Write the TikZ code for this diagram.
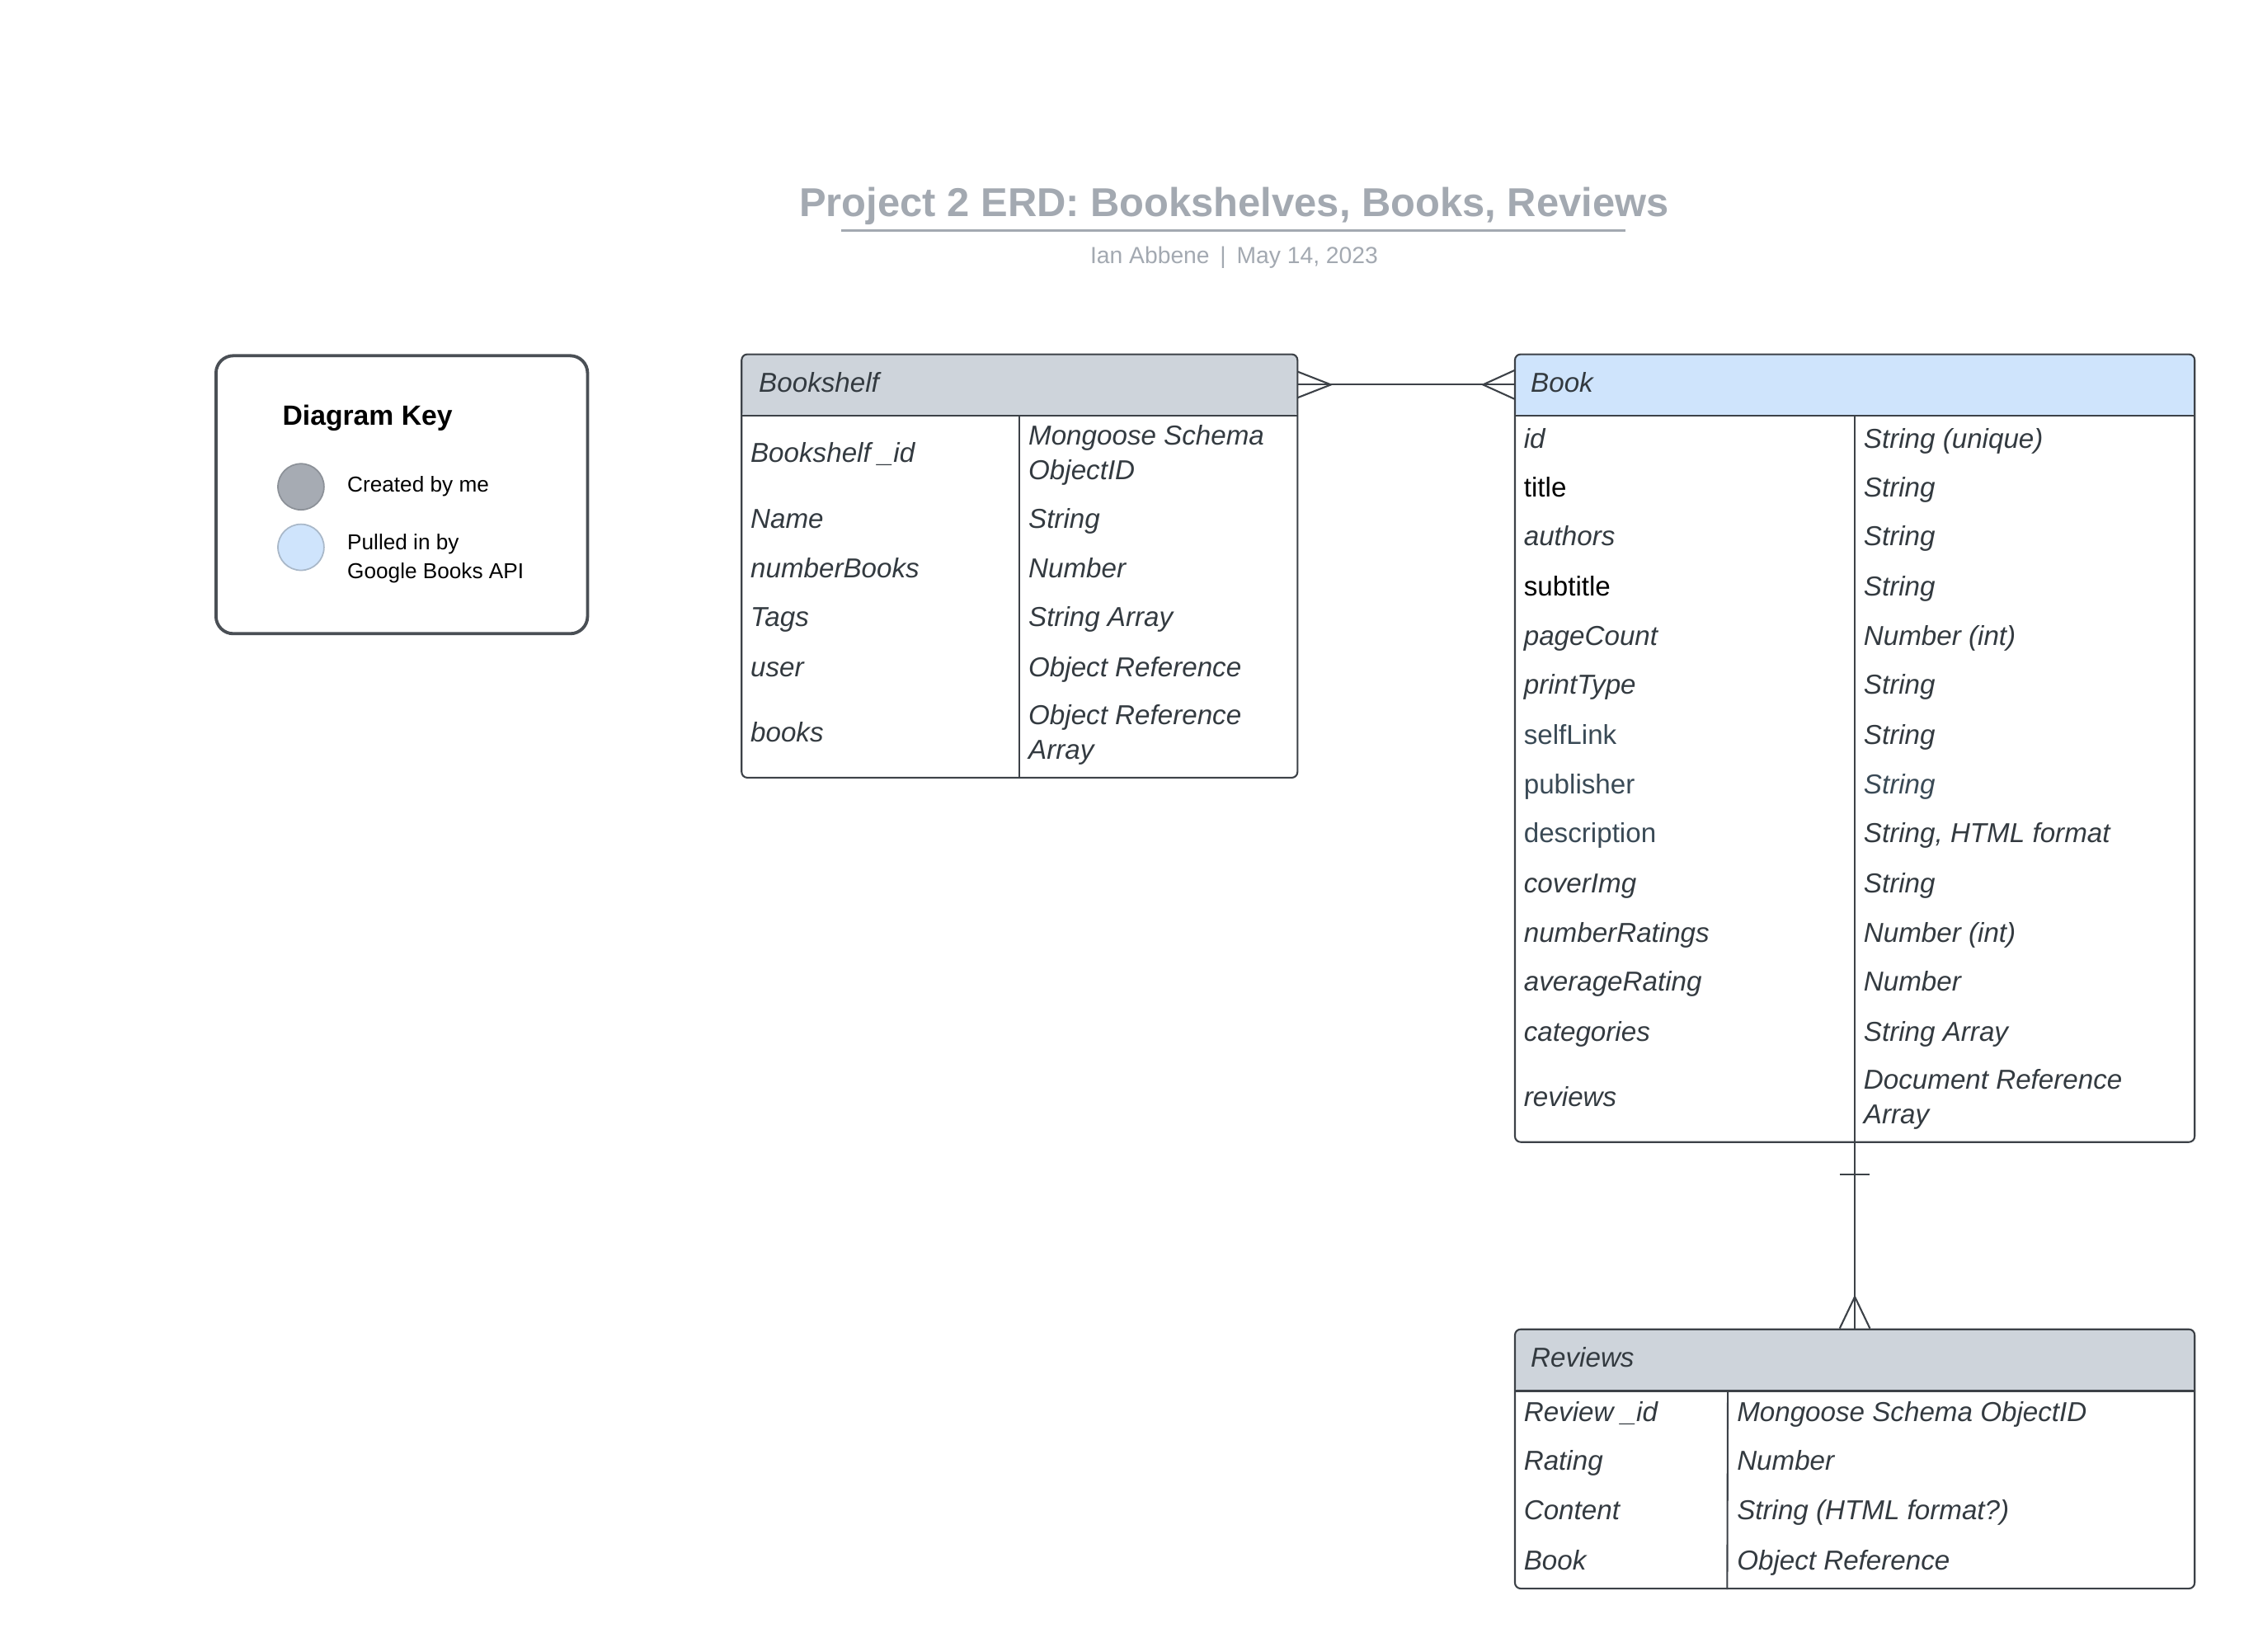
\documentclass[tikz,border=0pt]{standalone}
\usepackage{fontspec}
\setmainfont{Liberation Sans}
\definecolor{titlegray}{HTML}{A3A9B1}
\definecolor{inkgray}{HTML}{333A40}
\definecolor{slate}{HTML}{3A4A56}
\definecolor{headgray}{HTML}{CED4DB}
\definecolor{headblue}{HTML}{CFE4FC}
\definecolor{linegray}{HTML}{3C4147}
\definecolor{keyline}{HTML}{4A4F55}
\definecolor{dotgray}{HTML}{A6ABB3}
\definecolor{dotgrayline}{HTML}{8C9198}
\definecolor{dotblueline}{HTML}{A9B8C9}
\begin{document}
\begin{tikzpicture}[x=1pt,y=-1pt,
  every node/.style={font=\fontsize{19}{24}\selectfont,text=inkgray},
  entity/.style={draw=linegray,line width=1.2pt,rounded corners=4pt,inner sep=0pt},
  head/.style={inner sep=0pt,minimum height=43pt},
  cell/.style={anchor=base west,inner sep=0pt,align=left,font=\fontsize{19}{24}\selectfont\itshape},
  plain/.style={font=\fontsize{19}{24}\selectfont\upshape},
  keytext/.style={anchor=west,align=left,inner sep=0pt,text=black,font=\fontsize{15}{20}\selectfont},
  rel/.style={draw=linegray,line width=1.2pt}]
\useasboundingbox (0,0) rectangle (1568,1147);
% title
\node[font=\fontsize{28}{34}\selectfont\bfseries,text=titlegray] (title) at (857,143) {Project 2 ERD: Bookshelves, Books, Reviews};
\draw[titlegray,line width=2pt] (584,160) -- (1129,160);
\node[font=\fontsize{16.2}{20}\selectfont,text=titlegray] (byline) at (857,179) {Ian Abbene\hspace{0.45em}|\hspace{0.45em}May 14, 2023};
% key
\node[draw=keyline,line width=2.2pt,rounded corners=12pt,minimum width=258pt,minimum height=193pt,inner sep=0pt] (key) at (279,343.5) {};
\node[anchor=west,inner sep=0pt,text=black,font=\fontsize{19.3}{24}\selectfont\bfseries] (keytitle) at (196,290) {Diagram Key};
\node[circle,minimum size=32pt,inner sep=0pt,fill=dotgray,draw=dotgrayline,line width=1pt] (dotme) at (209,338) {};
\node[keytext] (keyme) at (241,338) {Created by me};
\node[circle,minimum size=32pt,inner sep=0pt,fill=headblue,draw=dotblueline,line width=1pt] (dotapi) at (209,380) {};
\node[keytext] (keyapi) at (241,388) {Pulled in by\\Google Books API};
% Bookshelf
\node[entity,minimum width=386pt,minimum height=294pt,path picture={\fill[headgray] (path picture bounding box.north west) rectangle ([yshift=-43pt]path picture bounding box.north east);}] (shelf) at (708,393) {};
\node[head,anchor=north,minimum width=386pt] (shelfhead) at (shelf.north) {};
\draw[rel] (shelfhead.south west) -- (shelfhead.south east);
\draw[rel] (shelfhead.south) -- (shelf.south);
\node[cell,anchor=west] (shelfname) at ([xshift=12pt,yshift=1.5pt]shelfhead.west) {Bookshelf};
\node[cell] (s1a) at (521,321) {Bookshelf \_id};
\node[cell] (s1b) at (714,333) {Mongoose Schema\\ObjectID};
\node[cell] (s2a) at (521,367) {Name};
\node[cell] (s2b) at (714,367) {String};
\node[cell] (s3a) at (521,401) {numberBooks};
\node[cell] (s3b) at (714,401) {Number};
\node[cell] (s4a) at (521,435) {Tags};
\node[cell] (s4b) at (714,435) {String Array};
\node[cell] (s5a) at (521,470) {user};
\node[cell] (s5b) at (714,470) {Object Reference};
\node[cell] (s6a) at (521,515) {books};
\node[cell] (s6b) at (714,527) {Object Reference\\Array};
% Book
\node[entity,minimum width=472pt,minimum height=547pt,path picture={\fill[headblue] (path picture bounding box.north west) rectangle ([yshift=-43pt]path picture bounding box.north east);}] (book) at (1288,519.5) {};
\node[head,anchor=north,minimum width=472pt] (bookhead) at (book.north) {};
\draw[rel] (bookhead.south west) -- (bookhead.south east);
\draw[rel] (bookhead.south) -- (book.south);
\node[cell,anchor=west] (bookname) at ([xshift=11pt,yshift=1.5pt]bookhead.west) {Book};
\node[cell] (b1a) at (1058,311) {id};
\node[cell] (b1b) at (1294,311) {String (unique)};
\node[cell,plain,text=black] (b2a) at (1058,345) {title};
\node[cell] (b2b) at (1294,345) {String};
\node[cell] (b3a) at (1058,379) {authors};
\node[cell] (b3b) at (1294,379) {String};
\node[cell,plain,text=black] (b4a) at (1058,414) {subtitle};
\node[cell] (b4b) at (1294,414) {String};
\node[cell] (b5a) at (1058,448) {pageCount};
\node[cell] (b5b) at (1294,448) {Number (int)};
\node[cell] (b6a) at (1058,482) {printType};
\node[cell] (b6b) at (1294,482) {String};
\node[cell,plain,text=slate] (b7a) at (1058,517) {selfLink};
\node[cell] (b7b) at (1294,517) {String};
\node[cell,plain,text=slate] (b8a) at (1058,551) {publisher};
\node[cell,text=slate] (b8b) at (1294,551) {String};
\node[cell,plain,text=slate] (b9a) at (1058,585) {description};
\node[cell] (b9b) at (1294,585) {String, HTML format};
\node[cell] (b10a) at (1058,620) {coverImg};
\node[cell] (b10b) at (1294,620) {String};
\node[cell] (b11a) at (1058,654) {numberRatings};
\node[cell] (b11b) at (1294,654) {Number (int)};
\node[cell] (b12a) at (1058,688) {averageRating};
\node[cell] (b12b) at (1294,688) {Number};
\node[cell] (b13a) at (1058,723) {categories};
\node[cell] (b13b) at (1294,723) {String Array};
\node[cell] (b14a) at (1058,768) {reviews};
\node[cell] (b14b) at (1294,780) {Document Reference\\Array};
% Reviews
\node[entity,minimum width=472pt,minimum height=180pt,path picture={\fill[headgray] (path picture bounding box.north west) rectangle ([yshift=-43pt]path picture bounding box.north east);}] (rev) at (1288,1013) {};
\node[head,anchor=north,minimum width=472pt] (revhead) at (rev.north) {};
\draw[rel] (revhead.south west) -- (revhead.south east);
\draw[rel] ([xshift=148pt]revhead.south west) -- ([xshift=148pt]rev.south west);
\node[cell,anchor=west] (revname) at ([xshift=11pt,yshift=1.5pt]revhead.west) {Reviews};
\node[cell] (r1a) at (1058,987) {Review \_id};
\node[cell] (r1b) at (1206,987) {Mongoose Schema ObjectID};
\node[cell] (r2a) at (1058,1021) {Rating};
\node[cell] (r2b) at (1206,1021) {Number};
\node[cell] (r3a) at (1058,1055) {Content};
\node[cell] (r3b) at (1206,1055) {String (HTML format?)};
\node[cell] (r4a) at (1058,1090) {Book};
\node[cell] (r4b) at (1206,1090) {Object Reference};
% relations
\draw[rel] (shelfhead.east) -- (bookhead.west);
\draw[rel] ([yshift=9pt]shelfhead.east) -- ++(23,9) -- ++(-23,9);
\draw[rel] ([yshift=10pt]bookhead.west) -- ++(-22,10) -- ++(22,10);
\draw[rel] (book.south) -- (revhead.north);
\draw[rel] ([yshift=-22pt]book.south) ++(-10.5,0) -- ++(21,0);
\draw[rel] ([xshift=-10.5pt]revhead.north) -- ++(10.5,-22) -- ++(10.5,22);
\end{tikzpicture}
\end{document}
